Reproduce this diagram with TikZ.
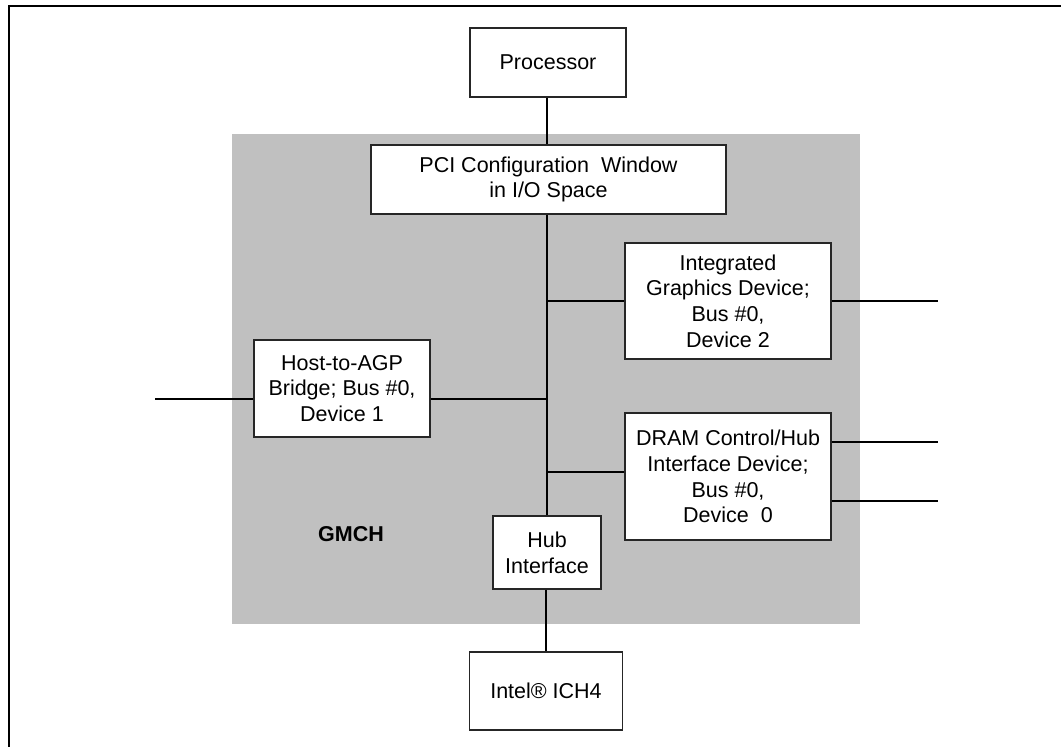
\documentclass[tikz,border=0pt]{standalone}
\usepackage{fontspec}
\setmainfont{Liberation Sans}
\definecolor{gmchgray}{RGB}{192,192,192}
\begin{document}
\begin{tikzpicture}[x=1pt,y=-1pt,
  box/.style={draw=black!85, line width=1.1pt, fill=white, inner sep=0pt, align=center,
    font=\fontsize{21.5}{25.7}\selectfont},
  wire/.style={line width=2pt, black},
  frameline/.style={line width=2.2pt, black}]
\useasboundingbox (0,0) rectangle (1061,747);
% frame (top and left edges visible)
\coordinate (fTL) at (9,6);
\coordinate (fTR) at (1070,6);
\coordinate (fBL) at (9,760);
\draw[frameline] (fBL) -- (fTL) -- (fTR);
% GMCH gray block
\fill[gmchgray] (232,134) rectangle (860,624);
% nodes
\node[box, minimum width=156pt, minimum height=69pt] (proc) at (548,62.5) {Processor};
\node[box, minimum width=355pt, minimum height=69pt] (pci) at (548.5,179.5) {PCI Configuration\ \ Window\\in I/O Space};
\node[box, minimum width=206pt, minimum height=116pt] (igd) at (728,301) {Integrated\\Graphics Device;\\Bus \#0,\\Device 2};
\node[box, minimum width=176pt, minimum height=97pt] (host) at (342,388.5) {Host-to-AGP\\Bridge; Bus \#0,\\Device 1};
\node[box, minimum width=206pt, minimum height=127pt] (dram) at (728,476.5) {DRAM Control/Hub\\Interface Device;\\Bus \#0,\\Device\ \ 0};
\node[box, minimum width=108pt, minimum height=73pt] (hub) at (547,552.5) {Hub\\Interface};
\node[box, minimum width=153pt, minimum height=78pt] (ich) at (546,691) {Intel® ICH4};
\node[font=\fontsize{21.5}{25}\selectfont\bfseries] (gmch) at (351,534) {GMCH};
% bus coordinates
\coordinate (busx) at (547,0);
\coordinate (yhost) at (0,399);
\coordinate (yigd) at (0,301);
\coordinate (ydram) at (0,472);
\coordinate (hostL) at (155,399);
\coordinate (igdR) at (938,301);
\coordinate (dramR1) at (938,442);
\coordinate (dramR2) at (938,501);
% connectors
\draw[wire] (proc.south -| busx) -- (pci.north -| busx);
\draw[wire] (pci.south -| busx) -- (hub.north -| busx);
\draw[wire] (busx |- yigd) -- (igd.west |- yigd);
\draw[wire] (busx |- ydram) -- (dram.west |- ydram);
\draw[wire] (host.east |- yhost) -- (busx |- yhost);
\draw[wire] (hostL) -- (host.west |- hostL);
\draw[wire] (igd.east |- igdR) -- (igdR);
\draw[wire] (dram.east |- dramR1) -- (dramR1);
\draw[wire] (dram.east |- dramR2) -- (dramR2);
\draw[wire] (hub.south -| ich.north) -- (ich.north);
\end{tikzpicture}
\end{document}
